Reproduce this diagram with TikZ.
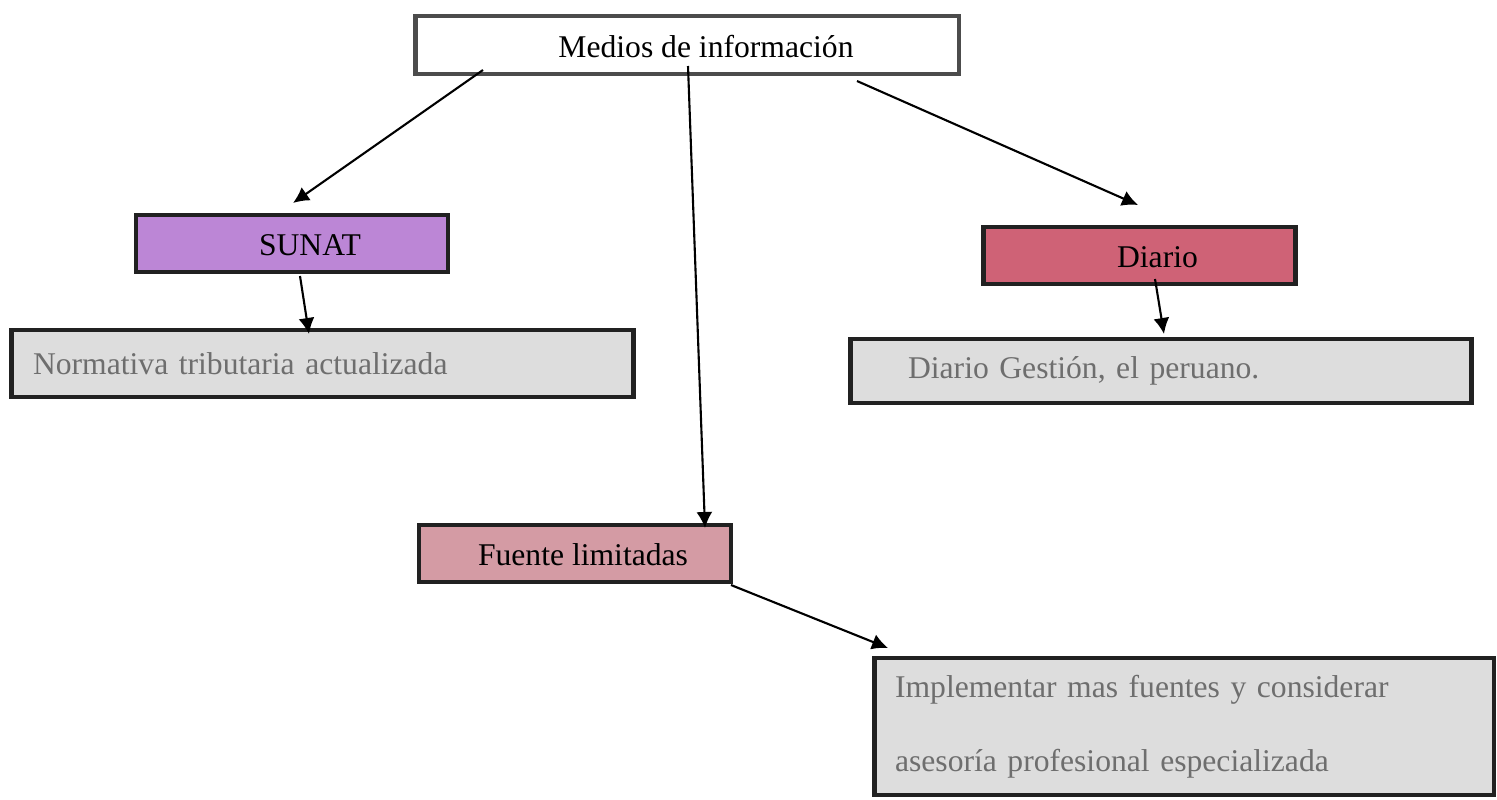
\documentclass[tikz,border=0pt]{standalone}
\usepackage{fontspec}
\setmainfont{Liberation Serif}
\usepackage{tikz}
\usetikzlibrary{arrows.meta}
\usetikzlibrary{positioning}

\definecolor{sunatfill}{HTML}{BC86D6}
\definecolor{diariofill}{HTML}{CF6276}
\definecolor{fuentefill}{HTML}{D49BA4}
\definecolor{notefill}{HTML}{DDDDDD}
\definecolor{notetext}{HTML}{6E6E6E}

% text sitting a little below the middle of the box
\newcommand{\boxlabel}[1]{\raisebox{-0.24cm}[0.2cm][0.2cm]{#1}}

\begin{document}
\begin{tikzpicture}[x=0.02cm,y=-0.02cm,>={Latex[length=0.32cm,width=0.32cm]},
	line width=1.2pt,font=\fontsize{18}{21}\selectfont,
	main node/.style={rectangle,draw=black!87,line width=2.8pt,inner sep=0pt,
		minimum width=6.24cm,minimum height=1.14cm},
	note node/.style={rectangle,draw=black!87,line width=2.8pt,fill=notefill,
		text=notetext,align=left,inner ysep=0pt}]
	
	\useasboundingbox (0,0) rectangle (1497,799);
	
	\node[main node,draw=black!70,minimum width=10.88cm,minimum height=1.16cm] (medios) at (687,45) {\hspace*{0.76cm}\boxlabel{Medios de información}};
	\node[main node,fill=sunatfill] (sunat) at (292,243.5) {\hspace*{0.72cm}\boxlabel{SUNAT}};
	\node[main node,fill=diariofill] (diario) at (1139.5,255.5) {\hspace*{0.72cm}\boxlabel{Diario}};
	\node[main node,fill=fuentefill] (fuente) at (575,553.5) {\hspace*{0.32cm}\boxlabel{Fuente limitadas}};
	
	\node[note node,inner xsep=0.44cm,text width=11.58cm,minimum height=1.34cm] (normativa) at (322.5,363.5) {Normativa tributaria actualizada};
	\node[note node,inner xsep=1.16cm,text width=10.12cm,minimum height=1.28cm] (gestion) at (1161,371) {Diario Gestión, el peruano.};
	\node[note node,inner xsep=0.42cm,text width=11.56cm,minimum height=2.74cm,
		font=\fontsize{18}{42}\selectfont] (implementar) at (1184,726.5) {Implementar mas fuentes y considerar\\asesoría profesional especializada};
	
	% arrow ends
	\coordinate (m1) at (483,70);
	\coordinate (m2) at (688,66);
	\coordinate (m3) at (857,81);
	\coordinate (s1) at (293,203);
	\coordinate (f1) at (705,528);
	\coordinate (d1) at (1138,205);
	\coordinate (s2) at (300,276);
	\coordinate (n1) at (309,334);
	\coordinate (d2) at (1155,279);
	\coordinate (g1) at (1164,334);
	\coordinate (f2) at (731,585);
	\coordinate (i1) at (888,648);
	
	\draw[->] (m1) -- (s1);
	\draw[->] (m2) -- (f1);
	\draw[->] (m3) -- (d1);
	\draw[->] (s2) -- (n1);
	\draw[->] (d2) -- (g1);
	\draw[->] (f2) -- (i1);
\end{tikzpicture}
\end{document}
